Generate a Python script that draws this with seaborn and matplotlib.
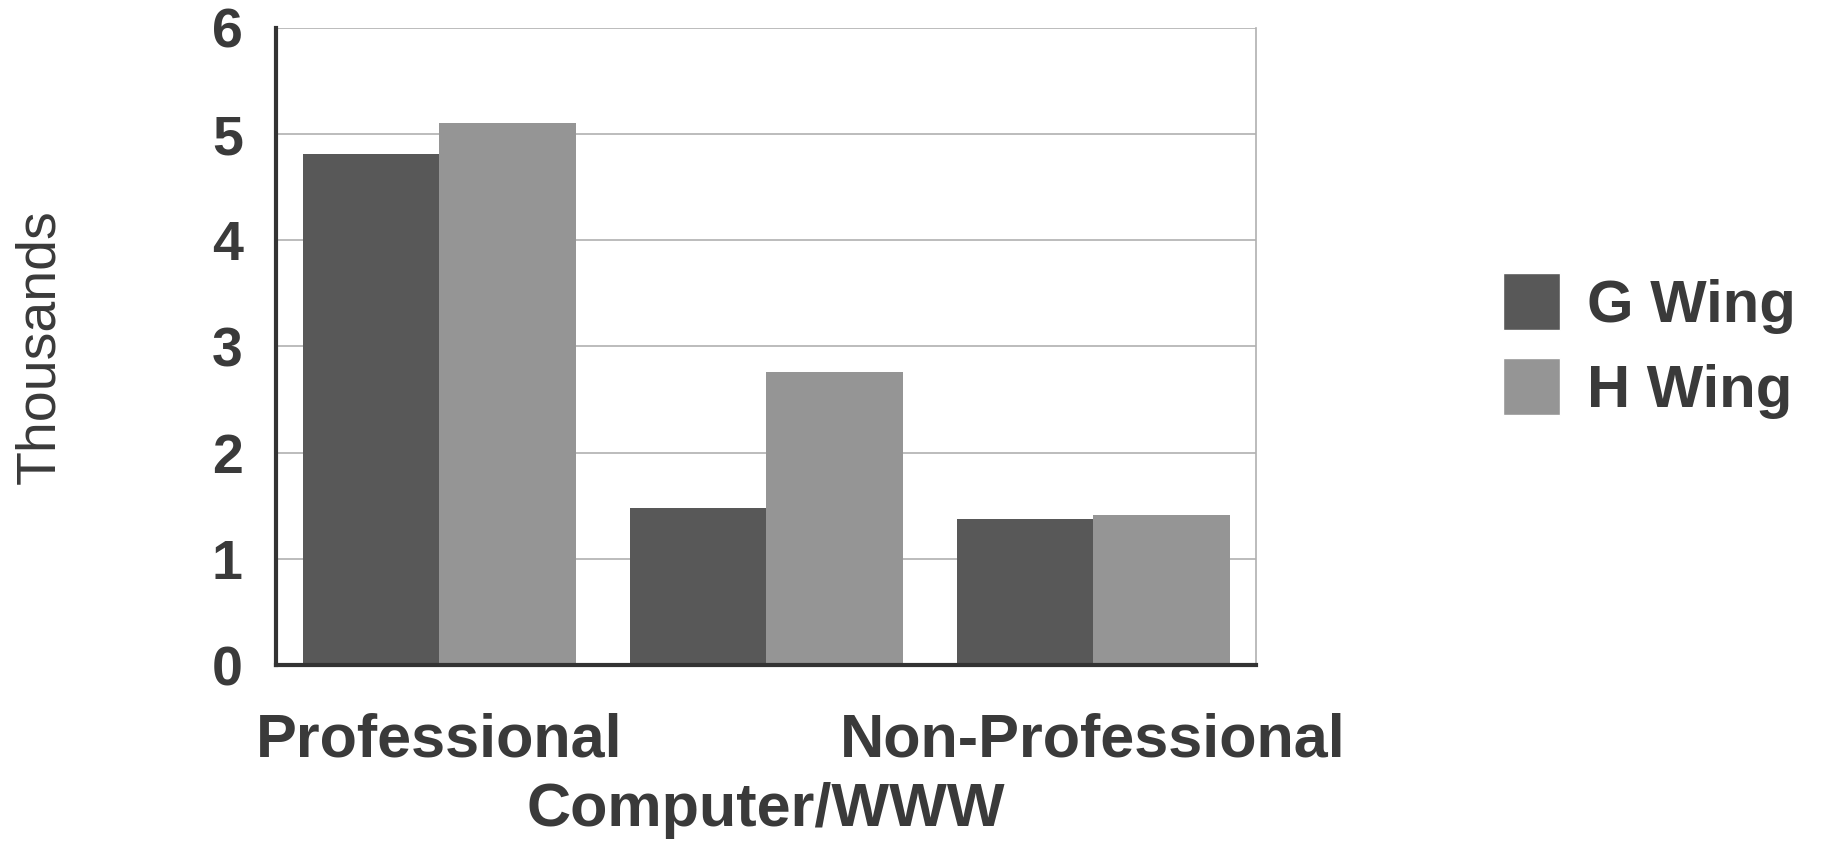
import numpy as np
import pandas as pd
import matplotlib
matplotlib.use("Agg")
import matplotlib.pyplot as plt
import seaborn as sns

categories = ['Professional', 'Computer/WWW', 'Non-Professional']
g_wing = [4.81, 1.48, 1.38]
h_wing = [5.10, 2.76, 1.41]
series = ['G Wing', 'H Wing']

df = pd.DataFrame({
    'category': categories * 2,
    'wing': [series[0]] * 3 + [series[1]] * 3,
    'value': g_wing + h_wing,
})

sns.set_style('white')
plt.rcParams['font.family'] = ['Liberation Sans', 'DejaVu Sans']
text_col = '#3a3a3a'

fig = plt.figure(figsize=(18.21, 8.43), dpi=100)
ax = fig.add_axes([0.1516, 0.211, 0.5384, 0.756])

palette = {'G Wing': '#585858', 'H Wing': '#959595'}
sns.barplot(data=df, x='category', y='value', hue='wing', order=categories,
            hue_order=series, palette=palette, width=0.835, saturation=1,
            edgecolor='none', ax=ax, legend=False)

ax.set_xlim(-0.5, 2.5)
ax.set_ylim(0, 6)
ax.set_yticks(range(0, 7))
ax.yaxis.grid(True, color='#b0b0b0', linewidth=1.2)
ax.set_axisbelow(True)

for s in ['left', 'bottom']:
    ax.spines[s].set_color('#333333')
    ax.spines[s].set_linewidth(3)
ax.spines['right'].set_color('#b0b0b0')
ax.spines['right'].set_linewidth(1.2)
ax.spines['top'].set_visible(False)

ax.set_yticklabels([str(i) for i in range(0, 7)], fontsize=40,
                   fontweight='bold', color=text_col)
ax.tick_params(axis='y', length=0, pad=24)
ax.set_xticks(range(3))
ax.set_xticklabels(categories, fontsize=44, fontweight='bold', color=text_col)
ax.tick_params(axis='x', length=0, pad=34)
# middle category label sits one row lower, as in the original
ax.get_xticklabels()[1].set_y(-0.11)
ax.set_xlabel('')
ax.set_ylabel('Thousands', fontsize=40, color=text_col, labelpad=105)

handles = [plt.Rectangle((0, 0), 1, 1, facecolor=palette[s]) for s in series]
fig.legend(handles, series, loc='center left', bbox_to_anchor=(0.796, 0.59),
           frameon=False, prop={'size': 43, 'weight': 'bold'},
           labelcolor=text_col, handlelength=0.95, handleheight=1.1,
           handletextpad=0.45, labelspacing=0.4)

fig.savefig('out.png', dpi=100, facecolor='white')
